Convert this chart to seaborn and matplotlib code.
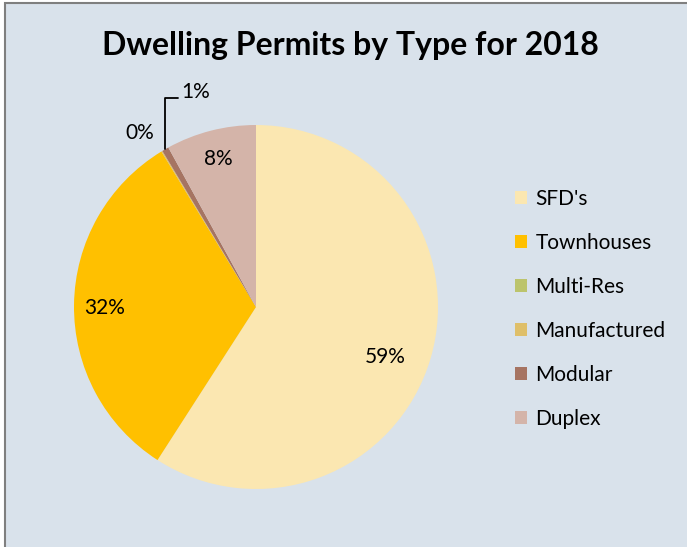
import matplotlib
matplotlib.use("Agg")
import matplotlib.pyplot as plt
from matplotlib.patches import Patch, Rectangle
import seaborn as sns
import numpy as np

categories = ["SFD's", "Townhouses", "Multi-Res", "Manufactured", "Modular", "Duplex"]
shares = [59.1, 32.2, 0.0, 0.1, 0.6, 8.0]
colors = ["#FBE7B1", "#FFC000", "#BCC46C", "#DFBF69", "#A67462", "#D4B4A9"]
title = "Dwelling Permits by Type for 2018"

sns.set_theme(style="white")
plt.rcParams['font.family'] = ['Lato', 'DejaVu Sans']
plt.rcParams['text.color'] = 'black'
bg = "#D9E2EB"

W, H = 687, 547
fig = plt.figure(figsize=(W / 100, H / 100), dpi=100)
fig.patch.set_facecolor("white")
# chart area with border on left/top
fig.patches.append(Rectangle((5 / W, -0.05), 1.1, 1 - 3 / H + 0.05, transform=fig.transFigure,
                             facecolor=bg, edgecolor="#7f7f7f", lw=1.5, zorder=-5))

cx, cy, r = 256, 307, 182
ax = fig.add_axes([(cx - r) / W, (H - cy - r) / H, 2 * r / W, 2 * r / H])
ax.set_zorder(2)
ax.set_facecolor("none")
wedges, _ = ax.pie(shares, colors=colors, startangle=90, counterclock=False, radius=1,
                   wedgeprops=dict(linewidth=0))
ax.set_xlim(-1, 1)
ax.set_ylim(-1, 1)
ax.set_aspect("equal")
ax.axis("off")

fs = 15
# (distance, angle shift in degrees) for the label of each large slice
pct_pos = {0: (0.76, -5), 1: (0.83, 1), 5: (0.84, 0)}
for i, w in enumerate(wedges):
    if i in pct_pos:
        d, sh = pct_pos[i]
        mid = np.deg2rad((w.theta1 + w.theta2) / 2 + sh)
        ax.text(d * np.cos(mid), d * np.sin(mid), f"{round(shares[i])}%", ha="center",
                va="center", fontsize=fs, color="black")

# small slices
ax.text(-0.64, 0.955, f"{round(shares[3])}%", ha="center", va="center", fontsize=fs)
m = wedges[4]
mid = np.deg2rad((m.theta1 + m.theta2) / 2)
x0, y0 = np.cos(mid), np.sin(mid)
ax.plot([x0, x0, x0 + 0.07], [y0, 1.15, 1.15], color="black", lw=1.3, clip_on=False)
ax.text(x0 + 0.09, 1.18, f"{round(shares[4])}%", ha="left", va="center", fontsize=fs)

fig.text(350 / W, 1 - 45 / H, title, ha="center", va="center", fontsize=23,
         fontweight="bold", color="black")

handles = [Patch(facecolor=c, edgecolor="none") for c in colors]
leg = fig.legend(handles, categories, loc="upper left", bbox_to_anchor=(496 / W, 1 - 170 / H),
                 frameon=False, fontsize=15, handlelength=0.6, handleheight=0.6,
                 handletextpad=0.4, labelspacing=1.15)
for t in leg.get_texts():
    t.set_color("black")

fig.savefig("out.png", dpi=100, facecolor=fig.get_facecolor())
